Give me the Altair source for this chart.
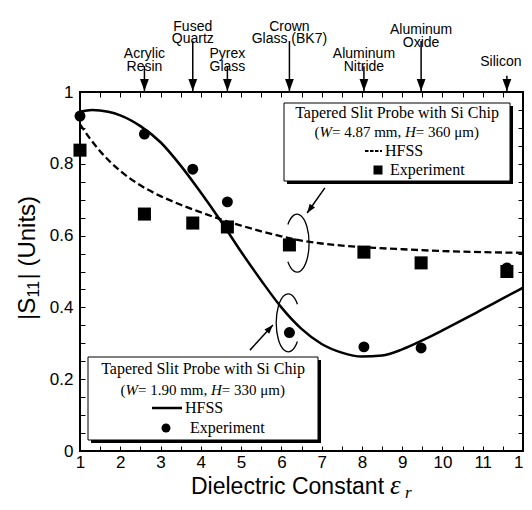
import altair as alt
import pandas as pd

# ---------------- data ----------------
# HFSS, W=1.90 mm, H=330 um (solid line)
hfss_a_x = [1, 1.3, 1.7, 2, 2.5, 3, 3.5, 4, 4.5, 5, 5.5, 6, 6.5, 7, 7.5, 8, 8.5, 9, 9.5, 10, 10.5, 11, 11.5, 12]
hfss_a_y = [0.945, 0.95, 0.945, 0.935, 0.905, 0.86, 0.795, 0.72, 0.64, 0.555, 0.475, 0.40, 0.34, 0.298,
            0.274, 0.263, 0.266, 0.283, 0.308, 0.336, 0.365, 0.395, 0.425, 0.455]
# HFSS, W=4.87 mm, H=360 um (dashed line)
hfss_b_x = [1, 1.25, 1.5, 2, 2.5, 3, 3.5, 4, 4.5, 5, 5.5, 6, 6.5, 7, 8, 9, 10, 11, 12]
hfss_b_y = [0.91, 0.87, 0.835, 0.78, 0.74, 0.71, 0.686, 0.665, 0.645, 0.628, 0.612, 0.598, 0.586,
            0.578, 0.568, 0.562, 0.557, 0.554, 0.552]
# Experiments
exp_x = [1, 2.6, 3.8, 4.66, 6.2, 8.05, 9.47, 11.6]
exp_a_y = [0.933, 0.883, 0.785, 0.694, 0.33, 0.29, 0.287, 0.51]   # circles
exp_b_y = [0.838, 0.66, 0.635, 0.624, 0.574, 0.554, 0.524, 0.50]  # squares

materials = ["Acrylic\nResin", "Fused\nQuartz", "Pyrex\nGlass", "Crown\nGlass (BK7)",
             "Aluminum\nNitride", "Aluminum\nOxide", "Silicon"]
material_x = exp_x[1:]
label_level = [1.086, 1.162, 1.086, 1.162, 1.086, 1.153, 1.064]
arrow_top = [1.072, 1.142, 1.072, 1.142, 1.072, 1.142, 1.045]
arrow_tip = 1.003

x_ticks = [1 + 0.5 * i for i in range(23)]
y_ticks = [round(0.05 * i, 2) for i in range(21)]

# pointer annotations (data units)
ptr_x1 = [7.08, 5.22]
ptr_y1 = [0.733, 0.281]
ptr_x2 = [6.64, 5.79]
ptr_y2 = [0.663, 0.351]
ring_x = [6.39, 6.17]
ring_y = [0.579, 0.357]

# ---------------- chart ----------------
W, H = 443, 359
xs = alt.Scale(domain=[1, 12], nice=False, zero=False)
ys = alt.Scale(domain=[0, 1], nice=False, zero=False)
SANS = "Liberation Sans"
SERIF = "Liberation Serif"

axis_common = dict(tickSize=5, offset=-5, domain=False, grid=False, tickColor="black", tickWidth=1,
                   title=None, labelFlush=False, labelOverlap=False)

x_bottom = alt.Axis(orient="bottom", values=x_ticks,
                    labelExpr="datum.value % 1 === 0 ? format(datum.value, 'd') : ''",
                    labelFont=SANS, labelFontSize=17, labelColor="black", labelPadding=3, **axis_common)
y_left = alt.Axis(orient="left", values=y_ticks,
                  labelExpr="abs(datum.value*5 - round(datum.value*5)) < 0.0001 ? format(datum.value, '~g') : ''",
                  labelFont=SANS, labelFontSize=17, labelColor="black", labelPadding=7, **axis_common)
x_top = alt.Axis(orient="top", values=x_ticks, labels=False, **axis_common)
y_right = alt.Axis(orient="right", values=y_ticks, labels=False, **axis_common)

df_a = pd.DataFrame({"x": hfss_a_x, "y": hfss_a_y})
df_b = pd.DataFrame({"x": hfss_b_x, "y": hfss_b_y})
df_exp = pd.DataFrame({"x": exp_x, "ya": exp_a_y, "yb": exp_b_y})
df_mat = pd.DataFrame({"x": material_x, "label": materials, "ly": label_level,
                       "top": arrow_top, "tip": [arrow_tip] * len(materials)})
df_ptr = pd.DataFrame({"x1": ptr_x1, "y1": ptr_y1, "x2": ptr_x2, "y2": ptr_y2})


def X(f, axis=None):
    return alt.X(f, type="quantitative", scale=xs, axis=axis)


def Y(f, axis=None):
    return alt.Y(f, type="quantitative", scale=ys, axis=axis)


solid = alt.Chart(df_a).mark_line(interpolate="monotone", color="black", strokeWidth=2.5).encode(
    x=X("x", x_bottom), y=Y("y", y_left))
dashed = alt.Chart(df_b).mark_line(interpolate="monotone", color="black", strokeWidth=2.3,
                                   strokeDash=[7, 3.5]).encode(x=X("x", x_top), y=Y("y", y_right))
circles = alt.Chart(df_exp).mark_point(shape="circle", filled=True, color="black", opacity=1, size=120).encode(
    x=X("x"), y=Y("ya"))
squares = alt.Chart(df_exp).mark_point(shape="square", filled=True, color="black", opacity=1, size=170).encode(
    x=X("x"), y=Y("yb"))

# material arrows above the plot
HEAD = "M0,0L-0.55,-1.5L0.55,-1.5Z"
mat_lines = alt.Chart(df_mat).mark_rule(color="black", strokeWidth=1.5).encode(
    x=X("x"), y=Y("top"), y2="tip:Q")
mat_heads = alt.Chart(df_mat).mark_point(shape=HEAD, filled=True, color="black", opacity=1, size=256).encode(
    x=X("x"), y=Y("tip"))
text_kw = dict(font=SANS, fontSize=14, lineBreak="\n", lineHeight=12.5, baseline="bottom", align="center",
               color="black")
mat_text = alt.Chart(df_mat.iloc[:-1]).mark_text(**text_kw).encode(
    x=X("x"), y=Y("ly"), text="label:N")
# the last label sits at the right edge of the page; nudge it inwards a little
mat_text_last = alt.Chart(df_mat.iloc[-1:]).mark_text(dx=-6, **text_kw).encode(
    x=X("x"), y=Y("ly"), text="label:N")

# pointer arrows and rings
ptr_lines = alt.Chart(df_ptr).mark_rule(color="black", strokeWidth=1.5).encode(
    x=X("x1"), y=Y("y1"), x2="x2:Q", y2="y2:Q")
head_up = alt.Chart(df_ptr.iloc[[0]]).mark_point(shape=HEAD, filled=True, color="black", opacity=1,
                                                   size=144, angle=35.6).encode(x=X("x2"), y=Y("y2"))
head_lo = alt.Chart(df_ptr.iloc[[1]]).mark_point(shape=HEAD, filled=True, color="black", opacity=1,
                                                   size=144, angle=222.6).encode(x=X("x2"), y=Y("y2"))
RING_R = "M-0.317,-0.643A0.414,1 0 1,1 -0.317,0.643"
RING_L = "M0.317,-0.643A0.414,1 0 1,0 0.317,0.643"
ring_df = pd.DataFrame({"x": ring_x, "y": ring_y})
ring_up = alt.Chart(ring_df.iloc[[0]]).mark_point(shape=RING_R, filled=False, color="black", opacity=1,
                                                    size=3364, strokeWidth=1.3).encode(x=X("x"), y=Y("y"))
ring_lo = alt.Chart(ring_df.iloc[[1]]).mark_point(shape=RING_L, filled=False, color="black", opacity=1,
                                                    size=3364, strokeWidth=1.3).encode(x=X("x"), y=Y("y"))


def txt(s, px, py, size=16, font=SERIF, style="normal", align="center", baseline="middle", angle=0):
    return alt.Chart(pd.DataFrame({"t": [s]})).mark_text(
        font=font, fontSize=size, fontStyle=style, align=align, baseline=baseline, angle=angle,
        color="black").encode(x=alt.value(px), y=alt.value(py), text="t:N")


def box(x1, y1, x2, y2, fill, stroke=None):
    kw = dict(fill=fill)
    if stroke:
        kw.update(stroke=stroke, strokeWidth=1)
    return alt.Chart(pd.DataFrame({"a": [0]})).mark_rect(**kw).encode(
        x=alt.value(x1), x2=alt.value(x2), y=alt.value(y1), y2=alt.value(y2))


def hline(x1, x2, y, width, dash=None):
    kw = dict(color="black", strokeWidth=width)
    if dash:
        kw["strokeDash"] = dash
    return alt.Chart(pd.DataFrame({"a": [0]})).mark_rule(**kw).encode(
        x=alt.value(x1), x2=alt.value(x2), y=alt.value(y))


def sym(shape, px, py, size):
    return alt.Chart(pd.DataFrame({"a": [0]})).mark_point(
        shape=shape, filled=True, color="black", opacity=1, size=size).encode(x=alt.value(px), y=alt.value(py))


def detail_line(cx, y, dims, size=15):
    # "(W= ... mm, H= ... um)" with italic W and H
    pieces = [("(", "normal", 0.333), ("W", "italic", 0.833), (f"= {dims[0]} mm, ", "normal", 4.87),
              ("H", "italic", 0.722), (f"= {dims[1]} \u03bcm)", "normal", 4.251)]
    total = sum(p[2] for p in pieces) * size
    x = cx - total / 2
    out = []
    for s, st, w in pieces:
        out.append(txt(s, x, y, size=size, style=st, align="left"))
        x += w * size
    return out


legend_up = [box(207, 14, 433, 92, "black"), box(204, 11, 430, 89, "white", "black"),
             txt("Tapered Slit Probe with Si Chip", 317, 21),
             *detail_line(317, 40, ("4.87", "360")),
             hline(285, 302, 59, 2, [3.5, 1.5]), txt("HFSS", 305, 59, align="left"),
             sym("square", 298, 78, 81), txt("Experiment", 310, 78, align="left")]
legend_lo = [box(11, 268, 241, 351, "black"), box(8, 265, 238, 348, "white", "black"),
             txt("Tapered Slit Probe with Si Chip", 123, 277),
             *detail_line(123, 298, ("1.90", "330")),
             hline(72, 102, 316, 2.5), txt("HFSS", 105, 316, align="left"),
             sym("circle", 86, 336, 80), txt("Experiment", 110, 336, align="left")]

titles = [txt("Dielectric Constant", 111, 402, size=23, font=SANS, align="left", baseline="alphabetic"),
          txt("\u03b5", 310, 402, size=27, font=SERIF, style="italic", align="left", baseline="alphabetic"),
          txt("r", 325, 406, size=17, font=SERIF, style="italic", align="left", baseline="alphabetic"),
          txt("|S", -52, 228, size=24, font=SANS, align="left", baseline="middle", angle=270),
          txt("11", -46, 205.5, size=16, font=SANS, align="left", baseline="middle", angle=270),
          txt("| (Units)", -52, 187.5, size=24, font=SANS, align="left", baseline="middle", angle=270)]

chart = alt.layer(
    solid, dashed, circles, squares,
    mat_lines, mat_heads, mat_text, mat_text_last,
    ptr_lines, head_up, head_lo, ring_up, ring_lo,
    *legend_up, *legend_lo, *titles,
).properties(
    width=W, height=H,
    autosize=alt.AutoSizeParams(type="none"),
    padding={"left": 72, "top": 84, "right": 1, "bottom": 51},
).configure_view(stroke="black", strokeWidth=2)

chart.save("out.html", embed_options={"renderer": "svg", "actions": False})
